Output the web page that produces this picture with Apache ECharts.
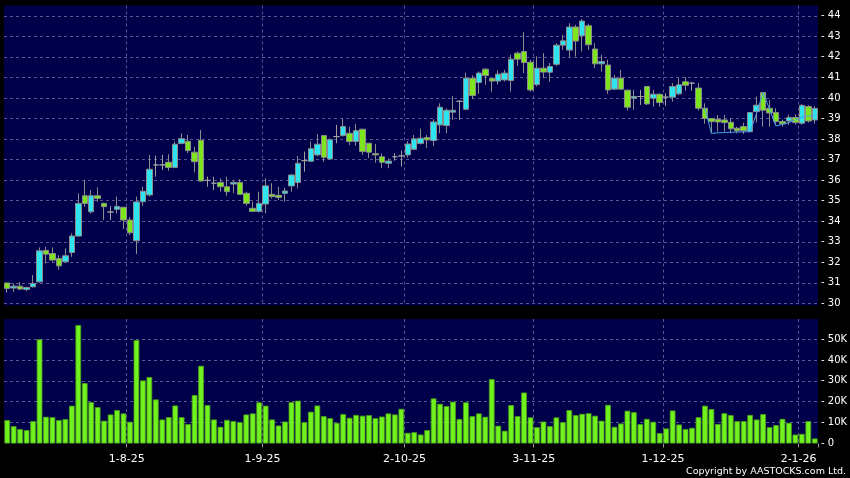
<!DOCTYPE html>
<html><head><meta charset="utf-8">
<script src="https://cdn.jsdelivr.net/npm/echarts@6/dist/echarts.min.js"></script>
<style>html,body{margin:0;padding:0;background:#000;} #c{width:850px;height:478px;}</style>
</head><body><div id="c"></div>
<script>
const categories = [
 '8-7-25','9-7-25','10-7-25','11-7-25','14-7-25','15-7-25','16-7-25','17-7-25','18-7-25','21-7-25','22-7-25','23-7-25','24-7-25','25-7-25','28-7-25','29-7-25','30-7-25','31-7-25',
 '1-8-25','4-8-25','5-8-25','6-8-25','7-8-25','8-8-25','11-8-25','12-8-25','13-8-25','14-8-25','15-8-25','18-8-25','19-8-25','20-8-25','21-8-25','22-8-25','25-8-25','26-8-25','27-8-25','28-8-25','29-8-25',
 '1-9-25','2-9-25','3-9-25','4-9-25','5-9-25','8-9-25','9-9-25','10-9-25','11-9-25','12-9-25','15-9-25','16-9-25','17-9-25','18-9-25','19-9-25','22-9-25','23-9-25','24-9-25','25-9-25','26-9-25','29-9-25','30-9-25',
 '2-10-25','3-10-25','6-10-25','8-10-25','9-10-25','10-10-25','13-10-25','14-10-25','15-10-25','16-10-25','17-10-25','20-10-25','21-10-25','22-10-25','23-10-25','24-10-25','27-10-25','28-10-25','30-10-25','31-10-25',
 '3-11-25','4-11-25','5-11-25','6-11-25','7-11-25','10-11-25','11-11-25','12-11-25','13-11-25','14-11-25','17-11-25','18-11-25','19-11-25','20-11-25','21-11-25','24-11-25','25-11-25','26-11-25','27-11-25','28-11-25',
 '1-12-25','2-12-25','3-12-25','4-12-25','5-12-25','8-12-25','9-12-25','10-12-25','11-12-25','12-12-25','15-12-25','16-12-25','17-12-25','18-12-25','19-12-25','22-12-25','23-12-25','24-12-25','29-12-25','30-12-25','31-12-25',
 '2-1-26','5-1-26','6-1-26','7-1-26'
];
const tickLabels = ['1-8-25','1-9-25','2-10-25','3-11-25','1-12-25','2-1-26'];
const priceLabels = [30,31,32,33,34,35,36,37,38,39,40,41,42,43,44];
const volumeLabels = [0,10000,20000,30000,40000,50000];

const openPrices = [
 31.00,30.75,30.84,30.68,30.81,31.05,32.58,32.43,32.19,32.03,
 32.48,33.28,35.24,34.46,35.24,34.87,34.45,34.58,34.68,34.06,
 33.05,34.95,35.28,36.74,36.74,36.87,36.62,37.79,37.89,37.36,
 37.94,35.99,35.85,35.89,35.68,35.81,35.89,35.36,34.63,34.48,
 34.84,35.31,35.26,35.36,35.72,35.89,36.95,36.92,37.23,38.17,
 37.03,38.12,38.17,38.28,37.88,38.48,37.80,37.29,37.14,36.82,
 37.14,37.18,37.23,37.50,37.79,38.07,37.93,38.69,38.66,39.31,
 39.84,39.45,40.96,40.75,41.40,40.95,40.82,40.88,40.85,42.18,
 42.26,41.74,40.65,41.45,41.25,41.64,42.57,42.33,43.45,43.03,
 43.51,42.38,41.66,41.60,40.43,40.96,40.38,39.99,40.07,40.56,
 39.99,40.18,40.04,40.04,40.20,40.79,40.72,40.48,39.50,39.00,
 38.96,38.93,38.82,38.53,38.61,38.36,39.34,40.26,39.50,39.29,
 38.85,38.88,39.05,38.77,39.58,38.93
];
const closePrices = [
 30.73,30.84,30.70,30.78,30.97,32.56,32.40,32.11,31.83,32.32,
 33.28,34.87,34.87,35.24,35.11,34.71,34.45,34.72,34.06,33.44,
 34.94,35.46,36.53,36.74,36.74,36.62,37.75,38.02,37.44,36.90,
 35.96,35.99,35.85,35.68,35.44,35.89,35.31,34.87,34.48,34.87,
 35.72,35.20,35.16,35.47,36.25,36.82,36.95,37.53,37.75,37.11,
 37.97,38.12,38.61,37.88,38.41,37.39,37.36,37.23,36.87,36.93,
 37.14,37.18,37.76,38.01,38.04,37.96,38.83,39.55,39.40,39.40,
 39.84,40.96,40.12,41.21,41.09,40.82,41.16,41.21,41.89,41.89,
 41.72,40.39,41.45,41.26,41.53,42.57,42.78,43.45,42.77,43.74,
 42.59,41.66,41.77,40.39,40.96,40.43,39.55,40.07,40.07,39.71,
 40.18,39.78,40.04,40.56,40.64,40.62,40.72,39.50,39.00,38.85,
 38.83,38.80,38.50,38.40,38.41,39.29,39.65,39.40,39.27,38.85,
 38.74,39.05,38.80,39.64,38.88,39.49
];
const lowPrices = [
 30.52,30.55,30.65,30.60,30.78,31.02,31.95,32.03,31.65,32.00,
 32.27,33.25,34.70,34.38,34.95,34.06,34.06,34.38,33.62,33.33,
 32.40,34.74,35.20,36.17,36.50,36.46,36.60,37.75,37.31,36.38,
 35.93,35.68,35.52,35.44,35.24,35.36,35.28,34.76,34.45,34.43,
 34.38,35.11,35.03,34.95,35.44,35.60,36.41,36.88,37.15,36.90,
 37.00,37.80,38.12,37.71,37.68,37.23,37.07,36.85,36.58,36.58,
 36.95,36.66,37.10,37.47,37.74,37.57,37.66,38.28,38.28,38.93,
 38.93,39.40,39.94,40.20,40.64,40.30,40.66,40.80,40.31,41.58,
 41.21,40.31,40.56,40.96,40.80,41.55,42.34,41.98,42.02,42.26,
 42.34,41.45,41.29,40.20,40.39,40.40,39.39,39.42,39.66,39.66,
 39.58,39.58,39.61,39.82,40.15,40.35,40.35,39.39,38.74,38.28,
 38.36,38.36,38.28,38.28,38.25,38.36,38.80,38.60,38.60,38.70,
 38.60,38.70,38.70,38.70,38.80,38.75
];
const highPrices = [
 31.00,30.97,31.04,30.80,31.38,32.73,32.76,32.73,32.35,32.68,
 33.41,35.36,36.00,35.52,35.65,34.90,34.74,35.20,34.70,34.20,
 35.20,35.68,37.23,37.19,37.23,37.26,37.88,38.28,38.20,37.62,
 38.44,36.17,36.17,36.09,36.17,35.98,36.05,35.44,34.95,35.44,
 36.09,35.85,35.68,35.63,36.30,37.18,37.39,37.88,38.23,38.20,
 38.03,38.69,38.98,38.60,38.74,38.48,37.80,37.76,37.30,37.05,
 37.31,37.44,37.90,38.20,38.50,38.20,38.96,39.74,39.50,40.10,
 39.88,41.23,41.10,41.29,41.45,40.97,41.34,41.37,42.10,42.26,
 43.20,41.86,42.03,42.18,41.70,42.66,43.07,43.64,43.56,43.84,
 43.61,42.67,42.10,41.86,41.12,41.37,40.40,40.40,40.39,40.56,
 40.39,40.23,40.23,40.72,40.96,41.01,40.78,40.72,39.74,39.02,
 39.17,39.17,39.00,38.60,38.80,39.29,40.07,40.26,39.90,39.50,
 38.95,39.20,39.20,39.70,39.65,39.60
];
const volumes = [
 11200,8300,6900,6400,10700,49900,12800,12600,11200,11700,
 18100,56700,28900,19800,17400,10900,13900,16000,14400,10400,
 49500,30200,31800,21100,11500,12600,18200,12600,9300,23200,
 37200,18400,11500,8000,11300,10700,10200,13900,14400,19700,
 18100,11500,8600,10500,19800,20500,10200,15200,18200,13100,
 12100,9900,14100,12300,13700,13300,13600,12100,12900,14400,
 13900,16600,5100,5400,4300,6400,21600,19000,17900,20000,
 11700,19700,13100,14400,12800,30800,8500,6100,18400,13100,
 24400,12500,7800,10500,8300,12500,10200,16000,13600,14200,
 14500,13300,10900,18500,8000,9600,15700,15000,9300,11800,
 10400,5000,7200,15800,9100,6900,7500,12600,18100,16500,
 9300,14500,13600,10700,10700,13700,11500,14100,7800,8800,
 11800,9900,4300,4600,10700,2400
];
// thin blue line drawn over the last candles (starts at category index lineStart)
const lineStart = 108;
const lineValues = [39.50,38.28,38.30,38.32,38.33,38.34,38.35,38.36,39.26,40.26,39.45,38.64,38.72,38.80,38.93,39.06,39.12,39.17];

const candleData = categories.map((c, i) => [openPrices[i], closePrices[i], lowPrices[i], highPrices[i]]);
const lineData = categories.map((c, i) => (i >= lineStart ? lineValues[i - lineStart] : null));

const isTickCat = (idx) => tickLabels.indexOf(categories[idx]) >= 0;
const labelInterval = (idx) => isTickCat(idx);
const lineInterval = (idx) => idx > 0 && isTickCat(idx - 1);
const isInt = (v) => Math.abs(v - Math.round(v)) < 1e-6;

const navy = '#00004a';
const gridLine = '#58588e';
const clear = 'rgba(0,0,0,0)';
const priceLineColors = [clear, gridLine, clear, clear, clear, clear, clear, clear, clear, clear];
const font = 'DejaVu Sans';

const chart = echarts.init(document.getElementById('c'), null, {renderer: 'canvas', width: 850, height: 478});
chart.setOption({
  backgroundColor: '#000',
  animation: false,
  grid: [
    {left: 4, right: 32, top: 5.5, height: 300, show: true, backgroundColor: navy, borderWidth: 0, outerBoundsMode: 'none', containLabel: false},
    {left: 4, right: 32, top: 319, height: 124.5, show: true, backgroundColor: navy, borderWidth: 0, outerBoundsMode: 'none', containLabel: false}
  ],
  xAxis: [
    {type: 'category', gridIndex: 0, data: categories, boundaryGap: true,
     axisLine: {show: false}, axisTick: {show: false}, axisLabel: {show: false},
     splitLine: {show: true, interval: lineInterval, showMaxLine: false, lineStyle: {color: gridLine, type: [3, 3], width: 1}}},
    {type: 'category', gridIndex: 1, data: categories, boundaryGap: true,
     axisLine: {show: false},
     axisTick: {show: true, interval: lineInterval, length: 4, lineStyle: {color: '#9a9a9a'}},
     axisLabel: {show: true, interval: labelInterval, color: '#ffffff', fontSize: 11, fontFamily: font, margin: 10, padding: [0, 0, 0, 6.46]},
     splitLine: {show: true, interval: lineInterval, showMaxLine: false, lineStyle: {color: gridLine, type: [3, 3], width: 1}}}
  ],
  yAxis: [
    {type: 'value', gridIndex: 0, position: 'right', min: 29.9, max: 44.5, interval: 0.1,
     axisLine: {show: false}, axisTick: {show: false},
     axisLabel: {color: '#ffffff', fontSize: 10, fontFamily: font, margin: 3,
       formatter: (v) => (isInt(v) && priceLabels.indexOf(Math.round(v)) >= 0 ? '- ' + Math.round(v) : '')},
     splitLine: {show: true, lineStyle: {color: priceLineColors, type: [3, 3], width: 1}}},
    {type: 'value', gridIndex: 1, position: 'right', min: 0, max: 59600, interval: 10000,
     axisLine: {show: false}, axisTick: {show: false},
     axisLabel: {color: '#ffffff', fontSize: 10, fontFamily: font, margin: 3,
       formatter: (v) => (volumeLabels.indexOf(v) >= 0 ? '- ' + (v === 0 ? '0' : (v / 1000) + 'K') : '')},
     splitLine: {show: true, showMinLine: false, showMaxLine: false, lineStyle: {color: gridLine, type: [3, 3], width: 1}}}
  ],
  series: [
    {type: 'candlestick', xAxisIndex: 0, yAxisIndex: 0, data: candleData, barWidth: 6,
     itemStyle: {color: '#2de4f0', color0: '#7ee41e', borderColor: '#8c8c8c', borderColor0: '#8c8c8c', borderColorDoji: '#a0a0a0', borderWidth: 1}},
    {type: 'line', xAxisIndex: 0, yAxisIndex: 0, data: lineData, showSymbol: false, symbol: 'none',
     lineStyle: {color: '#4aa2e6', width: 1}, z: 3},
    {type: 'bar', xAxisIndex: 1, yAxisIndex: 1, data: volumes, barWidth: '88%',
     itemStyle: {color: '#70f21e', borderColor: '#4b9e16', borderWidth: 0.8}}
  ],
  graphic: [
    {type: 'text', right: 4, top: 466.5, style: {text: 'Copyright by AASTOCKS.com Ltd.', fill: '#ffffff', font: '9.5px "DejaVu Sans"'}}
  ]
});
</script>
</body></html>
